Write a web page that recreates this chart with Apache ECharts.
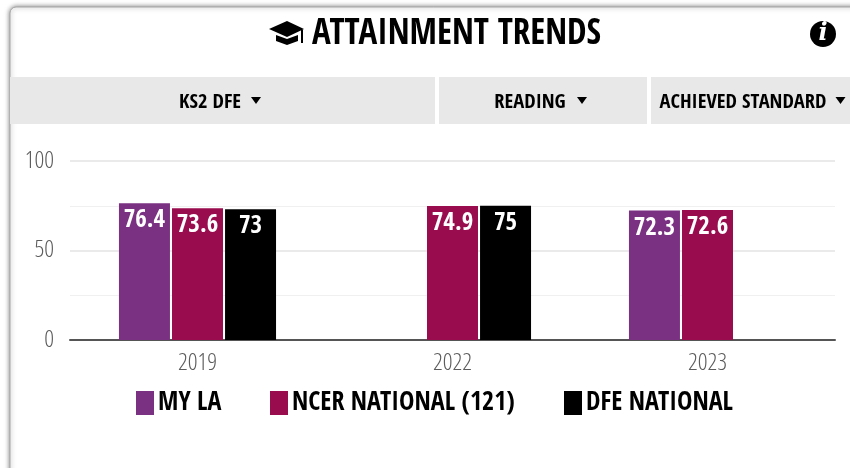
<!DOCTYPE html>
<html><head><meta charset="utf-8">
<style>html,body{margin:0;padding:0;background:#fff}#c{width:850px;height:468px}</style>
<script src="https://cdn.jsdelivr.net/npm/echarts@6/dist/echarts.min.js"></script>
</head><body><div id="c"></div>
<script>
const categories = ['2019','2022','2023'];
const myLa = [76.4,null,72.3];
const ncerNational = [73.6,74.9,72.6];
const dfeNational = [73,75,null];
const seriesNames = ['MY LA','NCER NATIONAL (121)','DFE NATIONAL'];
const seriesColors = ['#7b3182','#990d4e','#000000'];
const titleText = 'ATTAINMENT TRENDS';
const filterLabels = ['KS2 DFE','READING','ACHIEVED STANDARD'];
const FONT = '"Open Sans Condensed","Open Sans",sans-serif';
const LIGHT = '"Open Sans",sans-serif';

function rect(x,y,w,h,fill){return {type:'rect',silent:true,z:-5,shape:{x,y,width:w,height:h},style:{fill}};}
function text(cx,cy,t,size,align){return {type:'text',silent:true,z:5,x:cx,y:cy,style:{text:t,fontFamily:FONT,fontWeight:'bold',fontSize:size,fill:'#000',align:align||'center',verticalAlign:'middle'}};}
function tri(x,y){return {type:'polygon',silent:true,z:5,shape:{points:[[x,y],[x+10,y],[x+5,y+7]]},style:{fill:'#000'}};}
function poly(points){return {type:'polygon',silent:true,z:5,shape:{points},style:{fill:'#000'}};}

const chart = echarts.init(document.getElementById('c'),null,{renderer:'canvas'});
const series = [myLa,ncerNational,dfeNational].map((d,i)=>({
  name:seriesNames[i],type:'bar',data:d,barWidth:51,barGap:'4%',
  itemStyle:{color:seriesColors[i]},
  label:{show:true,position:'insideTop',distance:5,color:'#fff',fontFamily:FONT,fontWeight:'bold',fontSize:25,textBorderWidth:0},
  emphasis:{disabled:true}
}));
const legendLefts = [136,270,564];
chart.setOption({
  animation:false,
  grid:{left:70,right:15,top:161,bottom:128,containLabel:false},
  xAxis:{type:'category',data:categories,axisTick:{show:false},
    axisLine:{lineStyle:{color:'#555',width:2}},
    axisLabel:{color:'#5c5c5c',fontFamily:LIGHT,fontWeight:'300 condensed',fontSize:24,margin:11}},
  yAxis:{type:'value',min:0,max:100,interval:50,
    axisLabel:{color:'#5c5c5c',fontFamily:LIGHT,fontWeight:'300 condensed',fontSize:24,margin:16},
    axisLine:{show:false},axisTick:{show:false},
    splitLine:{lineStyle:{color:'#e3e3e3',width:1.5}},
    minorTick:{show:false,splitNumber:2},
    minorSplitLine:{show:true,lineStyle:{color:'#f0f0f0',width:1}}},
  legend:seriesNames.map((n,i)=>({data:[n],left:legendLefts[i],top:390,itemWidth:18,itemHeight:24,itemGap:0,
    textStyle:{fontFamily:FONT,fontWeight:'bold',fontSize:26,color:'#000',padding:[6,0,0,-1]},
    padding:0,selectedMode:false,icon:'rect'})),
  series,
  graphic:{elements:[
    {type:'rect',silent:true,z:-10,shape:{x:10,y:7,width:860,height:500,r:[6,0,0,0]},
      style:{fill:'#fff',stroke:'#a5a5a5',lineWidth:1,shadowBlur:5,shadowColor:'rgba(0,0,0,0.5)'}},
    rect(10,77,425,47,'#e8e8e8'),rect(439,77,208,47,'#e8e8e8'),rect(651,77,199,47,'#e8e8e8'),
    poly([[287,21],[304,29],[287,37],[269,29]]),
    poly([[276,35],[287,39],[298,35],[298,41],[287,45],[276,41]]),
    poly([[301,30],[303,29.5],[303,43],[301,43]]),
    text(456.5,35,titleText,35),
    {type:'circle',silent:true,z:5,shape:{cx:823,cy:34,r:13},style:{fill:'#000'}},
    {type:'text',silent:true,z:6,x:823,y:34,style:{text:'i',fontFamily:'"DejaVu Serif",serif',fontStyle:'italic',fontWeight:'bold',fontSize:24,fill:'#fff',align:'center',verticalAlign:'middle'}},
    text(210,103,filterLabels[0],20.5),tri(251,97),
    text(530,103,filterLabels[1],20.5),tri(577,97),
    text(743,103,filterLabels[2],20.5),tri(835.5,97)
  ]}
});
</script></body></html>
